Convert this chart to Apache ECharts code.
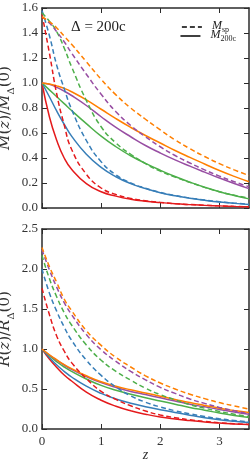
<!DOCTYPE html>
<html><head><meta charset="utf-8">
<script src="https://cdn.jsdelivr.net/npm/echarts@6/dist/echarts.min.js"></script>
<style>html,body{margin:0;padding:0;background:#fff}#c{width:250px;height:468px}</style>
</head><body><div id="c"></div>
<script>
// redshift sample points shared by all curves
const zVals = [0, 0.125, 0.25, 0.375, 0.5, 0.75, 1, 1.25, 1.5, 1.75, 2, 2.25, 2.5, 2.75, 3, 3.25, 3.5];
const xTicks = [0, 1, 2, 3];

// top panel: M(z)/M_Delta(0), solid = M200c, dashed = Msp
const m200Red    = [1, 0.73, 0.54, 0.40, 0.31, 0.195, 0.13, 0.095, 0.07, 0.054, 0.043, 0.034, 0.027, 0.021, 0.017, 0.013, 0.01];
const m200Blue   = [1, 0.89, 0.775, 0.67, 0.575, 0.43, 0.325, 0.25, 0.195, 0.155, 0.122, 0.098, 0.078, 0.062, 0.048, 0.037, 0.028];
const m200Green  = [1, 0.945, 0.89, 0.835, 0.78, 0.675, 0.575, 0.49, 0.418, 0.357, 0.302, 0.252, 0.207, 0.166, 0.13, 0.1, 0.073];
const m200Purple = [1, 0.99, 0.965, 0.935, 0.9, 0.82, 0.73, 0.645, 0.57, 0.5, 0.44, 0.385, 0.335, 0.287, 0.24, 0.196, 0.155];
const m200Orange = [1, 0.992, 0.977, 0.957, 0.93, 0.865, 0.79, 0.715, 0.645, 0.58, 0.52, 0.46, 0.405, 0.352, 0.3, 0.253, 0.21];
const mSpRed     = [1.55, 1.24, 0.91, 0.665, 0.47, 0.27, 0.16, 0.108, 0.077, 0.058, 0.045, 0.035, 0.028, 0.022, 0.017, 0.013, 0.01];
const mSpBlue    = [1.58, 1.38, 1.14, 0.955, 0.79, 0.54, 0.37, 0.265, 0.2, 0.158, 0.125, 0.1, 0.08, 0.064, 0.05, 0.039, 0.03];
const mSpGreen   = [1.56, 1.495, 1.41, 1.28, 1.13, 0.86, 0.65, 0.52, 0.43, 0.355, 0.295, 0.247, 0.205, 0.165, 0.13, 0.102, 0.078];
const mSpPurple  = [1.53, 1.48, 1.41, 1.33, 1.24, 1.07, 0.91, 0.77, 0.66, 0.57, 0.49, 0.42, 0.36, 0.305, 0.255, 0.21, 0.17];
const mSpOrange  = [1.53, 1.49, 1.44, 1.375, 1.31, 1.17, 1.03, 0.905, 0.8, 0.71, 0.625, 0.545, 0.475, 0.412, 0.355, 0.305, 0.26];

// bottom panel: R(z)/R_Delta(0)
const r200Red    = [1, 0.875, 0.77, 0.675, 0.6, 0.46, 0.36, 0.285, 0.228, 0.185, 0.15, 0.125, 0.105, 0.089, 0.075, 0.064, 0.055];
const r200Blue   = [1, 0.895, 0.8, 0.72, 0.65, 0.535, 0.445, 0.375, 0.322, 0.279, 0.241, 0.205, 0.172, 0.142, 0.117, 0.097, 0.08];
const r200Green  = [1, 0.915, 0.84, 0.775, 0.72, 0.625, 0.545, 0.485, 0.435, 0.39, 0.35, 0.31, 0.27, 0.235, 0.2, 0.17, 0.145];
const r200Purple = [1, 0.925, 0.86, 0.80, 0.745, 0.655, 0.58, 0.52, 0.47, 0.43, 0.39, 0.35, 0.31, 0.277, 0.245, 0.213, 0.185];
const r200Orange = [1, 0.928, 0.865, 0.805, 0.755, 0.665, 0.59, 0.535, 0.49, 0.45, 0.41, 0.37, 0.33, 0.295, 0.26, 0.232, 0.205];
const rSpRed     = [1.76, 1.43, 1.16, 0.975, 0.83, 0.63, 0.47, 0.37, 0.29, 0.225, 0.175, 0.142, 0.115, 0.095, 0.078, 0.066, 0.056];
const rSpBlue    = [2.0, 1.70, 1.47, 1.275, 1.11, 0.86, 0.67, 0.525, 0.415, 0.335, 0.275, 0.228, 0.19, 0.157, 0.128, 0.106, 0.088];
const rSpGreen   = [2.17, 1.88, 1.65, 1.455, 1.30, 1.05, 0.86, 0.72, 0.61, 0.51, 0.43, 0.365, 0.305, 0.26, 0.22, 0.185, 0.155];
const rSpPurple  = [2.24, 1.99, 1.77, 1.58, 1.43, 1.18, 0.99, 0.845, 0.72, 0.615, 0.52, 0.445, 0.375, 0.32, 0.27, 0.228, 0.19];
const rSpOrange  = [2.27, 2.03, 1.83, 1.625, 1.48, 1.23, 1.045, 0.895, 0.775, 0.665, 0.575, 0.5, 0.435, 0.38, 0.33, 0.288, 0.25];

const colors = ['#e41a1c', '#377eb8', '#4daf4a', '#984ea3', '#ff7f00'];
const legendNames = ['Msp', 'M200c'];
const annotation = 'Δ = 200c';

const FONT = 'Liberation Serif';
const NAMEFONT = 'DejaVu Serif';
const AX = '#2b2b2b';
const DASH = [5, 3];

function pairs(arr) { return zVals.map((z, i) => [z, arr[i]]); }
function line(arr, color, dashed, xi, yi) {
  return {
    type: 'line', data: pairs(arr), xAxisIndex: xi, yAxisIndex: yi,
    smooth: 0.5, symbol: 'none', silent: true,
    lineStyle: { color: color, width: 1.5, type: dashed ? DASH : 'solid' },
    z: dashed ? 3 : 2
  };
}

const topSolid = [m200Red, m200Blue, m200Green, m200Purple, m200Orange];
const topDash = [mSpRed, mSpBlue, mSpGreen, mSpPurple, mSpOrange];
const botSolid = [r200Red, r200Blue, r200Green, r200Purple, r200Orange];
const botDash = [rSpRed, rSpBlue, rSpGreen, rSpPurple, rSpOrange];

const series = [];
topDash.forEach((a, i) => series.push(line(a, colors[i], true, 0, 0)));
topSolid.forEach((a, i) => series.push(line(a, colors[i], false, 0, 0)));
botDash.forEach((a, i) => series.push(line(a, colors[i], true, 2, 2)));
botSolid.forEach((a, i) => series.push(line(a, colors[i], false, 2, 2)));
// legend-only entries
series.push({ type: 'line', name: legendNames[0], data: [], xAxisIndex: 0, yAxisIndex: 0, symbol: 'none',
  lineStyle: { color: '#000', width: 1.5, type: DASH }, itemStyle: { color: '#000' } });
series.push({ type: 'line', name: legendNames[1], data: [], xAxisIndex: 0, yAxisIndex: 0, symbol: 'none',
  lineStyle: { color: '#000', width: 1.5 }, itemStyle: { color: '#000' } });

function xAx(gi, pos, labels) {
  return {
    type: 'value', gridIndex: gi, position: pos, min: 0, max: 3.5, interval: 1,
    axisLine: { show: true, onZero: false, lineStyle: { color: AX, width: 1.5 } },
    axisTick: { show: true, inside: true, length: 5, lineStyle: { color: AX, width: 1 },
      customValues: xTicks },
    axisLabel: { show: labels, customValues: xTicks, fontFamily: FONT, fontSize: 13, color: '#333', margin: 6 },
    splitLine: { show: false }
  };
}
function yAx(gi, pos, max, interval, labels) {
  return {
    type: 'value', gridIndex: gi, position: pos, min: 0, max: max, interval: interval,
    axisLine: { show: true, onZero: false, lineStyle: { color: AX, width: 1.5 } },
    axisTick: { show: true, inside: true, length: 5, lineStyle: { color: AX, width: 1 } },
    axisLabel: { show: labels, fontFamily: FONT, fontSize: 13, color: '#333', margin: 4,
      formatter: v => v.toFixed(1) },
    splitLine: { show: false }
  };
}

const nameStyle = { fontFamily: NAMEFONT, color: '#333', rich: {
  i: { fontFamily: NAMEFONT, fontStyle: 'italic', fontSize: 15, padding: [0, 0, 3, 0] },
  n: { fontFamily: NAMEFONT, fontSize: 15, padding: [0, 0, 3, 0] },
  s: { fontFamily: NAMEFONT, fontSize: 10, verticalAlign: 'bottom' } } };

const yTop = yAx(0, 'left', 1.6, 0.2, true);
yTop.name = '{i|M}{n|(}{i|z}{n|)/}{i|M}{s|Δ}{n|(0)}';
yTop.nameLocation = 'middle'; yTop.nameGap = 26; yTop.nameMoveOverlap = false;
yTop.nameTextStyle = nameStyle;
const yBot = yAx(1, 'left', 2.5, 0.5, true);
yBot.name = '{i|R}{n|(}{i|z}{n|)/}{i|R}{s|Δ}{n|(0)}';
yBot.nameLocation = 'middle'; yBot.nameGap = 26; yBot.nameMoveOverlap = false;
yBot.nameTextStyle = nameStyle;

const xBot = xAx(1, 'bottom', true);
xBot.name = 'z'; xBot.nameLocation = 'middle'; xBot.nameGap = 19; xBot.nameMoveOverlap = false;
xBot.nameTextStyle = { fontFamily: FONT, fontStyle: 'italic', fontSize: 14, color: '#333' };

function legendItem(name, dashType, top) {
  return {
    data: [{ name: name, itemStyle: { opacity: 0 }, lineStyle: { color: '#000', width: 1.5, type: dashType } }],
    right: name === 'Msp' ? 16 : 9, top: top, itemWidth: 20, itemHeight: 8, selectedMode: false,
    formatter: n => n === 'Msp' ? '{m|M}{s|sp}' : '{m|M}{s|200c}',
    textStyle: { fontFamily: FONT, color: '#222', padding: [0, 0, 0, 5], rich: {
      m: { fontFamily: FONT, fontStyle: 'italic', fontSize: 12, padding: [0, 0, 2, 0] },
      s: { fontFamily: FONT, fontSize: 8, verticalAlign: 'bottom' } } }
  };
}

const chart = echarts.init(document.getElementById('c'), null, { renderer: 'canvas' });
chart.setOption({
  animation: false,
  backgroundColor: '#fff',
  grid: [
    { left: 42, right: 1, top: 8, height: 200, outerBoundsMode: 'none', containLabel: false },
    { left: 42, right: 1, top: 229, height: 200, outerBoundsMode: 'none', containLabel: false }
  ],
  xAxis: [xAx(0, 'bottom', false), xAx(0, 'top', false), xBot, xAx(1, 'top', false)],
  yAxis: [yTop, yAx(0, 'right', 1.6, 0.2, false), yBot, yAx(1, 'right', 2.5, 0.5, false)],
  title: { text: annotation, left: 66, top: 15,
    textStyle: { fontFamily: FONT, fontSize: 15, fontWeight: 'normal', color: '#222' } },
  legend: [legendItem(legendNames[0], DASH, 15), legendItem(legendNames[1], 'solid', 24)],
  series: series
});
</script></body></html>
